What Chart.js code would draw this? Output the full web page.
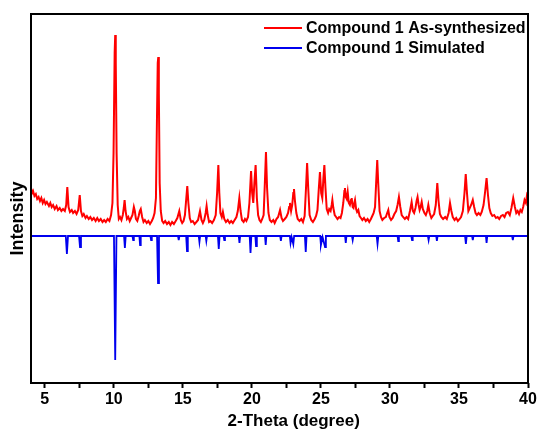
<!DOCTYPE html>
<html>
<head>
<meta charset="utf-8">
<script src="https://cdn.jsdelivr.net/npm/chart.js@4/dist/chart.umd.min.js"></script>
<style>
  html, body { margin: 0; padding: 0; background: #fff; }
  #wrap { width: 540px; height: 432px; }
</style>
</head>
<body>
<div id="wrap"><canvas id="xrd"></canvas></div>
<script>
// 2-theta / intensity pairs (arbitrary units)
const asSynthesized = [
  [4.00,195],[4.08,190],[4.15,192],[4.25,187],[4.35,189],[4.45,184],[4.55,186],[4.65,182],[4.75,185],[4.85,180],
  [4.95,183],[5.05,179],[5.15,181],[5.30,177],[5.40,180],[5.50,176],[5.60,178],[5.72,174],[5.85,177],[5.95,173],
  [6.08,175],[6.20,172],[6.32,174],[6.45,172],[6.55,178],[6.63,196],[6.72,176],[6.82,171],[6.95,173],[7.05,170],
  [7.18,172],[7.30,169],[7.42,173],[7.53,188],[7.62,172],[7.72,167],[7.82,169],[7.95,165],[8.05,167],[8.18,164],
  [8.30,166],[8.42,163],[8.55,165],[8.68,162],[8.80,165],[8.92,162],[9.05,164],[9.18,161],[9.30,163],[9.42,161],
  [9.55,164],[9.68,162],[9.80,168],[9.90,180],[9.98,230],[10.06,330],[10.10,348],[10.14,320],[10.20,230],[10.28,178],
  [10.36,164],[10.45,166],[10.55,163],[10.65,168],[10.72,175],[10.78,183],[10.85,172],[10.95,164],[11.05,166],[11.15,162],
  [11.25,165],[11.35,168],[11.45,176],[11.52,172],[11.60,164],[11.70,162],[11.80,167],[11.88,172],[11.95,174],[12.05,166],
  [12.15,161],[12.25,163],[12.38,160],[12.50,162],[12.62,159],[12.75,162],[12.85,165],[12.95,170],[13.05,185],[13.12,260],
  [13.18,320],[13.22,326],[13.26,290],[13.32,200],[13.40,172],[13.50,162],[13.60,160],[13.72,162],[13.85,159],[13.98,161],
  [14.10,158],[14.22,161],[14.35,159],[14.48,162],[14.60,165],[14.74,172],[14.85,163],[14.95,160],[15.05,162],[15.15,168],
  [15.25,185],[15.32,197],[15.40,180],[15.50,165],[15.60,161],[15.72,162],[15.85,159],[15.98,161],[16.10,163],[16.24,172],
  [16.35,163],[16.45,160],[16.55,163],[16.65,170],[16.72,177],[16.80,168],[16.90,161],[17.00,162],[17.12,160],[17.25,163],
  [17.38,168],[17.48,190],[17.57,218],[17.64,190],[17.72,170],[17.82,166],[17.90,171],[18.00,164],[18.12,161],[18.25,163],
  [18.38,160],[18.50,162],[18.62,160],[18.75,163],[18.88,166],[18.98,172],[19.09,185],[19.18,172],[19.28,163],[19.40,161],
  [19.50,164],[19.60,162],[19.72,166],[19.82,180],[19.94,212],[20.02,190],[20.10,180],[20.18,200],[20.27,218],[20.36,185],
  [20.45,168],[20.55,163],[20.65,161],[20.75,164],[20.85,168],[20.94,200],[21.02,231],[21.10,195],[21.20,170],[21.30,163],
  [21.42,161],[21.55,163],[21.65,160],[21.78,164],[21.90,166],[22.04,173],[22.15,165],[22.25,162],[22.38,164],[22.50,166],
  [22.62,170],[22.70,176],[22.76,180],[22.84,172],[22.92,178],[23.00,190],[23.05,194],[23.12,182],[23.22,170],[23.32,164],
  [23.45,162],[23.58,164],[23.70,161],[23.82,167],[23.92,195],[24.00,220],[24.08,195],[24.18,168],[24.30,163],[24.42,161],
  [24.55,164],[24.65,167],[24.75,173],[24.85,195],[24.93,211],[25.02,190],[25.10,185],[25.18,205],[25.25,218],[25.33,195],
  [25.42,174],[25.52,170],[25.60,174],[25.70,172],[25.78,178],[25.83,183],[25.90,175],[26.00,168],[26.10,166],[26.20,164],
  [26.32,166],[26.42,165],[26.52,170],[26.62,180],[26.70,192],[26.74,195],[26.80,186],[26.87,184],[26.94,191],[27.02,180],
  [27.10,178],[27.18,183],[27.23,185],[27.30,176],[27.36,175],[27.42,180],[27.47,183],[27.55,174],[27.62,171],[27.71,173],
  [27.80,167],[27.90,165],[28.00,163],[28.12,165],[28.25,162],[28.38,164],[28.50,161],[28.62,164],[28.72,167],[28.82,170],
  [28.92,176],[29.00,200],[29.08,223],[29.15,200],[29.25,172],[29.35,166],[29.45,163],[29.58,165],[29.70,166],[29.80,170],
  [29.88,173],[29.96,166],[30.08,163],[30.20,165],[30.32,169],[30.45,172],[30.55,178],[30.65,186],[30.75,176],[30.85,168],
  [30.95,166],[31.08,164],[31.20,166],[31.32,164],[31.45,172],[31.57,181],[31.66,172],[31.75,170],[31.85,175],[31.93,182],
  [32.00,186],[32.08,178],[32.15,173],[32.22,176],[32.30,181],[32.38,174],[32.50,170],[32.60,168],[32.70,172],[32.78,178],
  [32.88,170],[33.00,165],[33.10,167],[33.20,169],[33.32,178],[33.43,200],[33.52,182],[33.62,169],[33.72,166],[33.85,164],
  [34.00,166],[34.12,164],[34.25,170],[34.35,180],[34.45,172],[34.55,166],[34.68,163],[34.80,165],[34.92,162],[35.05,164],
  [35.15,166],[35.28,172],[35.40,190],[35.49,209],[35.58,190],[35.68,172],[35.78,175],[35.88,178],[36.00,183],[36.10,176],
  [36.20,170],[36.30,168],[36.42,170],[36.55,168],[36.65,171],[36.78,178],[36.90,192],[37.00,205],[37.10,188],[37.20,175],
  [37.30,170],[37.42,167],[37.55,168],[37.68,165],[37.80,166],[37.92,164],[38.05,167],[38.18,168],[38.30,166],[38.42,170],
  [38.55,171],[38.68,168],[38.80,175],[38.93,185],[39.05,176],[39.15,170],[39.25,172],[39.35,169],[39.45,173],[39.55,171],
  [39.65,176],[39.75,183],[39.85,180],[39.93,188],[40.00,186]
];

const simulated = [
  [4.00,147],[6.52,147],[6.60,129],[6.68,147],[7.48,147],[7.55,136],[7.62,147],[10.01,147],[10.10,23],[10.19,147],
  [10.74,147],[10.80,135],[10.86,147],[11.35,147],[11.40,143],[11.45,147],[11.85,147],[11.90,138],
  [11.95,147],[12.65,147],[12.70,143],[12.75,147],[13.13,147],[13.20,100],[13.27,147],[14.65,147],[14.70,143],[14.75,147],
  [15.24,147],[15.30,132],[15.36,147],[16.15,147],[16.20,141],[16.25,147],[16.65,147],[16.70,142],[16.75,147],[17.54,147],
  [17.60,134],[17.66,147],[17.95,147],[18.00,143],[18.05,147],[19.05,147],[19.10,140],[19.15,147],[19.84,147],[19.90,130],
  [19.96,147],[20.25,147],[20.30,137],[20.36,147],[20.95,147],[21.00,138],[21.05,147],[22.05,147],[22.10,142],[22.15,147],
  [22.75,147],[22.80,140],[22.88,146],[23.00,139],[23.06,147],[23.84,147],[23.90,131],[23.96,147],[24.95,147],[25.00,138],
  [25.12,146],[25.30,136],[25.36,147],[26.75,147],[26.80,140],[26.85,147],[27.25,147],[27.30,143],[27.35,147],[29.04,147],
  [29.10,139],[29.16,147],[30.55,147],[30.60,142],[30.65,147],[31.55,147],[31.60,143],[31.65,147],[32.75,147],[32.80,143],
  [32.85,147],[33.35,147],[33.40,142],[33.45,147],[35.44,147],[35.50,139],[35.56,147],[35.95,147],[36.00,143],[36.05,147],
  [36.95,147],[37.00,140],[37.05,147],[38.85,147],[38.90,143],[38.95,147],[40.00,147]
];

const xTicks = [5, 7.5, 10, 12.5, 15, 17.5, 20, 22.5, 25, 27.5, 30, 32.5, 35, 37.5, 40];

const FONT = "'Liberation Sans', Arial, sans-serif";

const toPoints = arr => arr.map(p => ({x: p[0], y: p[1]}));

// box round the plot + legend in the top right corner
const framePlugin = {
  id: 'frame',
  afterDraw(chart) {
    const {ctx, chartArea: a} = chart;
    ctx.save();
    ctx.strokeStyle = '#000';
    ctx.lineWidth = 2;
    ctx.strokeRect(a.left, a.top, a.right - a.left, a.bottom - a.top);

    ctx.font = 'bold 16px ' + FONT;
    ctx.textBaseline = 'middle';
    ctx.textAlign = 'left';
    chart.data.datasets.forEach((ds, i) => {
      const y = 28 + i * 20;
      ctx.strokeStyle = ds.borderColor;
      ctx.beginPath();
      ctx.moveTo(264, y);
      ctx.lineTo(302, y);
      ctx.stroke();
      ctx.fillStyle = '#000';
      ctx.fillText(ds.label, 306, y + 1);
    });
    ctx.restore();
  }
};

new Chart(document.getElementById('xrd'), {
  type: 'line',
  data: {
    datasets: [
      {
        label: 'Compound 1 As-synthesized',
        data: toPoints(asSynthesized),
        borderColor: '#ff0000',
        borderWidth: 2,
        pointRadius: 0,
        tension: 0
      },
      {
        label: 'Compound 1 Simulated',
        data: toPoints(simulated),
        borderColor: '#0000ee',
        borderWidth: 1.8,
        pointRadius: 0,
        tension: 0
      }
    ]
  },
  options: {
    responsive: true,
    maintainAspectRatio: false,
    animation: false,
    layout: { padding: { top: 14, right: 12, left: 0, bottom: 0 } },
    plugins: {
      legend: { display: false },
      tooltip: { enabled: false }
    },
    scales: {
      x: {
        type: 'linear',
        min: 4,
        max: 40,
        afterBuildTicks: s => { s.ticks = xTicks.map(v => ({value: v})); },
        afterFit: s => { s.height = 49; },
        border: { display: false },
        grid: {
          drawOnChartArea: false,
          drawTicks: true,
          tickLength: 5,
          tickColor: '#000',
          tickWidth: 2
        },
        ticks: {
          color: '#000',
          padding: 2,
          maxRotation: 0,
          autoSkip: false,
          font: { family: FONT, size: 16, weight: 'bold' },
          callback: v => (v % 5 === 0 ? v : '')
        },
        title: {
          display: true,
          text: '      2-Theta (degree)',
          color: '#000',
          padding: { top: 0, bottom: 0 },
          font: { family: FONT, size: 17, weight: 'bold' }
        }
      },
      y: {
        min: 0,
        max: 369,
        afterFit: s => { s.width = 31; },
        border: { display: false },
        grid: { display: false },
        ticks: { display: false },
        title: {
          display: true,
          text: 'Intensity        ',
          color: '#000',
          padding: { top: 7, bottom: 0 },
          font: { family: FONT, size: 18, weight: 'bold' }
        }
      }
    }
  },
  plugins: [framePlugin]
});
</script>
</body>
</html>
